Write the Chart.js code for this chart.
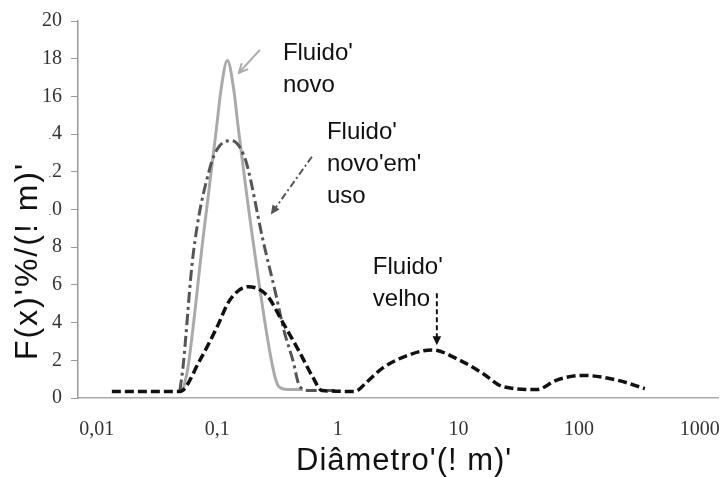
<!DOCTYPE html>
<html>
<head>
<meta charset="utf-8">
<script src="https://cdn.jsdelivr.net/npm/chart.js@4/dist/chart.umd.min.js"></script>
<style>
  html, body { margin: 0; padding: 0; background: #fff; }
  #wrap { width: 726px; height: 477px; }
</style>
</head>
<body>
<div id="wrap"><canvas id="chart" width="726" height="477"></canvas></div>
<script>
// diameter (µm) and F(x)
const novoX = [0.0519, 0.0571, 0.0760, 0.0993, 0.1071, 0.1213, 0.1374, 0.1482, 0.1972, 0.2891, 0.3243, 0.3846, 0.5125];
const novoY = [0.4, 1.6, 8.4, 14.5, 16.3, 17.9, 16.3, 14.5, 8.4, 1.6, 0.6, 0.45, 0.45];

const emUsoX = [0.0490, 0.0519, 0.0628, 0.0868, 0.1051, 0.1321, 0.1538, 0.1758, 0.2388, 0.3060, 0.3566, 0.4236, 0.4842, 0.5861, 0.944];
const emUsoY = [0.4, 1.6, 7.5, 12.2, 13.4, 13.65, 13.3, 12.4, 8.4, 5.5, 3.6, 2.0, 0.6, 0.4, 0.4];

const velhoX = [0.01336, 0.0490, 0.0717, 0.0993, 0.1272, 0.1794, 0.2577, 0.3499, 0.4842, 0.6206, 0.7366, 1.38, 1.74, 2.36, 3.95, 6.02, 10.27, 15.93, 23.35, 44.67, 65.4, 107.6, 205.7, 351.5];
const velhoY = [0.35, 0.35, 2.0, 3.75, 5.2, 5.9, 5.45, 4.0, 2.4, 1.1, 0.4, 0.35, 0.85, 1.6, 2.3, 2.55, 2.0, 1.3, 0.6, 0.45, 0.95, 1.2, 0.95, 0.5];

const xTicks = [0.01, 0.1, 1, 10, 100, 1000];
const xTickLabels = ["0,01", "0,1", "1", "10", "100", "1000"];

const xTitle = "Diâmetro'(! m)'";
const yTitle = "F(x)'%/(! m)'";

// callouts, anchored in data units
const notes = [
  { lines: ["Fluido'", "novo"], x: 0.35, y: 18.3 },
  { lines: ["Fluido'", "novo'em'", "uso"], x: 0.811, y: 14.07 },
  { lines: ["Fluido'", "velho"], x: 1.95, y: 6.93 }
];
const arrows = [
  { from: [0.2255, 18.47], to: [0.151, 17.25], color: "#aaa", dash: [], head: "open" },
  { from: [0.609, 12.8], to: [0.278, 9.74], color: "#555", dash: [7, 3, 2, 3], head: "fill" },
  { from: [6.62, 5.56], to: [6.62, 2.8], color: "#111", dash: [5, 3], head: "fill" }
];

const pts = (xs, ys) => xs.map((x, i) => ({ x, y: ys[i] }));

const SANS = "'Liberation Sans', Arial, sans-serif";
const SERIF = "'Liberation Serif', 'DejaVu Serif', serif";

const callouts = {
  id: "callouts",
  afterDraw(chart) {
    const { ctx, scales: { x, y } } = chart;
    ctx.save();
    ctx.lineWidth = 2;
    for (const a of arrows) {
      const x0 = x.getPixelForValue(a.from[0]), y0 = y.getPixelForValue(a.from[1]);
      const x1 = x.getPixelForValue(a.to[0]), y1 = y.getPixelForValue(a.to[1]);
      const ang = Math.atan2(y1 - y0, x1 - x0);
      const hl = 10;
      ctx.strokeStyle = a.color;
      ctx.fillStyle = a.color;
      ctx.setLineDash(a.dash);
      ctx.beginPath();
      ctx.moveTo(x0, y0);
      if (a.head === "fill") ctx.lineTo(x1 - Math.cos(ang) * hl * 0.8, y1 - Math.sin(ang) * hl * 0.8);
      else ctx.lineTo(x1, y1);
      ctx.stroke();
      ctx.setLineDash([]);
      ctx.beginPath();
      ctx.moveTo(x1 - hl * Math.cos(ang - 0.45), y1 - hl * Math.sin(ang - 0.45));
      ctx.lineTo(x1, y1);
      ctx.lineTo(x1 - hl * Math.cos(ang + 0.45), y1 - hl * Math.sin(ang + 0.45));
      if (a.head === "fill") { ctx.closePath(); ctx.fill(); } else ctx.stroke();
    }
    ctx.fillStyle = "#111";
    ctx.font = "24px " + SANS;
    ctx.textBaseline = "middle";
    ctx.textAlign = "left";
    for (const n of notes) {
      const px = x.getPixelForValue(n.x), py = y.getPixelForValue(n.y);
      n.lines.forEach((t, i) => ctx.fillText(t, px, py + i * 32));
    }

    // axis titles; the y title sits on a white box as in the source
    ctx.fillStyle = "#fff";
    ctx.fillRect(6, 120, 43, 250);
    ctx.fillStyle = "#111";
    ctx.font = "32px " + SANS;
    ctx.save();
    ctx.letterSpacing = "2px";
    ctx.translate(28, 261);
    ctx.rotate(-Math.PI / 2);
    ctx.textAlign = "center";
    ctx.fillText(yTitle, 0, 0);
    ctx.restore();
    ctx.font = "31px " + SANS;
    ctx.letterSpacing = "1px";
    ctx.textAlign = "left";
    ctx.fillText(xTitle, 296, 461);
    ctx.restore();
  }
};

new Chart(document.getElementById("chart"), {
  type: "line",
  data: {
    datasets: [
      {
        label: "Fluido velho",
        data: pts(velhoX, velhoY),
        borderColor: "#111",
        borderWidth: 3.5,
        borderDash: [9, 4],
        order: 0
      },
      {
        label: "Fluido novo em uso",
        data: pts(emUsoX, emUsoY),
        borderColor: "#555",
        borderWidth: 3,
        borderDash: [11, 4, 3, 4],
        order: 1
      },
      {
        label: "Fluido novo",
        data: pts(novoX, novoY),
        borderColor: "#aaa",
        borderWidth: 3,
        order: 2
      }
    ]
  },
  options: {
    responsive: false,
    animation: false,
    devicePixelRatio: 1,
    layout: { padding: { top: 20, right: 8, left: 0, bottom: 0 } },
    elements: {
      point: { radius: 0 },
      line: { cubicInterpolationMode: "monotone", fill: false }
    },
    scales: {
      x: {
        type: "logarithmic",
        min: 0.007,
        max: 1420,
        afterBuildTicks: (s) => { s.ticks = xTicks.map(v => ({ value: v })); },
        afterFit: (s) => { s.height = 79; s.paddingLeft = 0; s.paddingRight = 0; },
        grid: { display: false, drawTicks: false },
        border: { display: true, color: "#aaa", width: 1.5 },
        ticks: {
          autoSkip: false,
          maxRotation: 0,
          padding: 20,
          color: "#333",
          font: { family: SERIF, size: 20 },
          callback: (v) => { const i = xTicks.indexOf(v); return i >= 0 ? xTickLabels[i] : ""; }
        }
      },
      y: {
        min: 0,
        max: 20,
        afterFit: (s) => { s.width = 78; },
        grid: { drawOnChartArea: false, drawTicks: true, tickLength: 7, color: "#999" },
        border: { display: true, color: "#999", width: 1.5 },
        ticks: {
          stepSize: 2,
          padding: 9,
          color: "#333",
          font: { family: SERIF, size: 20 }
        }
      }
    },
    plugins: {
      legend: { display: false },
      tooltip: { enabled: false }
    }
  },
  plugins: [callouts]
});
</script>
</body>
</html>
